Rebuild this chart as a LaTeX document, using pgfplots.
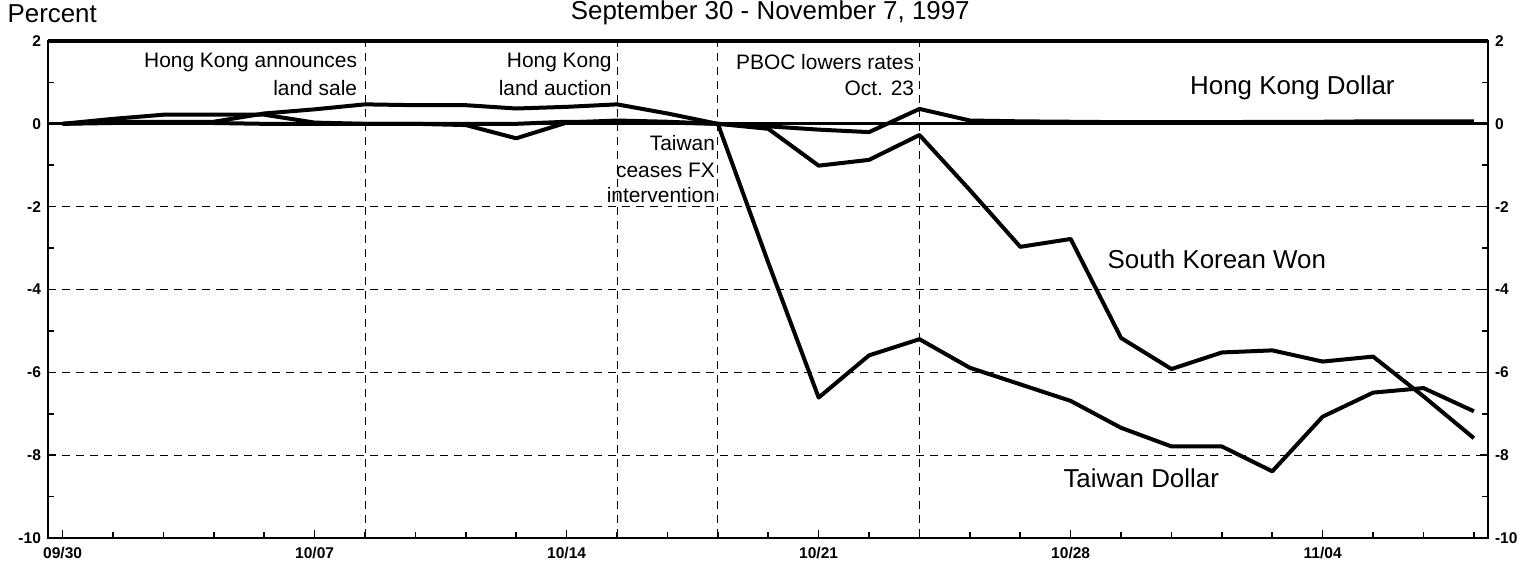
\documentclass[border=0pt]{standalone}
\usepackage{fontspec}
\setmainfont{Liberation Sans}
\usepackage{pgfplots}
\pgfplotsset{compat=1.18}

% index 0 = 09/30, one step per business day, last = 11/07 (28)
\begin{document}
\begin{tikzpicture}
\pgfplotsset{
  common/.style={
    at={(0,0)}, anchor=south west,
    scale only axis, width=720bp, height=248.5bp,
    xmin=-0.29, xmax=28.28, ymin=-10, ymax=2,
    ytick={-10,-8,...,2}, minor ytick={-9,-7,...,1},
    tick align=inside,
    major tick length=4bp, minor tick length=3bp,
    tick style={black, line width=0.8bp},
    axis line style={black, line width=1.2bp},
    ticklabel style={font=\bfseries\fontsize{7.8}{9}\selectfont},
    /pgf/number format/assume math mode=true,
  }
}
\begin{axis}[
  common,
  xtick={0,5,10,15,20,25},
  xticklabels={09/30,10/07,10/14,10/21,10/28,11/04},
  minor xtick={1,...,28},
  xtick pos=bottom, ytick pos=left,
  xticklabel style={yshift=-1bp},
  ymajorgrids,
  grid style={black, line width=0.5bp, dash pattern=on 4bp off 3bp},
  clip=false,
]
% event lines
\foreach \e in {6,11,13,17}{
  \edef\tmp{\noexpand\draw[black, line width=0.5bp, dash pattern=on 4bp off 3bp] (axis cs:\e,2.05) -- (axis cs:\e,-10);}
  \tmp
}
% zero line
\draw[black, line width=1.4bp] (axis cs:-0.29,0) -- (axis cs:28.28,0);
\draw[black, line width=1.8bp] (axis cs:-0.29,2) -- (axis cs:28.28,2);

% Taiwan Dollar
\addplot[black, line width=2bp, line join=round] coordinates {
(0,0) (1,0.05) (2,0.05) (3,0.05) (4,0.25) (5,0.35) (6,0.47) (7,0.45)
(8,0.45) (9,0.37) (10,0.41) (11,0.47) (12,0.25) (13,0) (14,-3.35)
(15,-6.61) (16,-5.59) (17,-5.2) (18,-5.89) (19,-6.29) (20,-6.69)
(21,-7.34) (22,-7.79) (23,-7.79) (24,-8.39) (25,-7.07) (26,-6.49)
(27,-6.38) (28,-6.94)
};
% Hong Kong Dollar
\addplot[black, line width=2bp, line join=round] coordinates {
(0,0) (1,0.12) (2,0.22) (3,0.22) (4,0.22) (5,0.03) (6,0) (7,0)
(8,-0.03) (9,-0.35) (10,0.03) (11,0.08) (12,0.05) (13,0) (14,-0.06)
(15,-0.14) (16,-0.2) (17,0.36) (18,0.08) (19,0.06) (20,0.05)
(21,0.04) (22,0.04) (23,0.04) (24,0.05) (25,0.05) (26,0.06)
(27,0.06) (28,0.06)
};
% South Korean Won
\addplot[black, line width=2bp, line join=round] coordinates {
(0,0) (1,0.02) (2,0.02) (3,0.02) (4,0) (5,0) (6,0) (7,0)
(8,0) (9,0) (10,0.05) (11,0.05) (12,0.03) (13,0) (14,-0.12)
(15,-1.01) (16,-0.87) (17,-0.27) (18,-1.6) (19,-2.97) (20,-2.78)
(21,-5.17) (22,-5.92) (23,-5.52) (24,-5.47) (25,-5.74) (26,-5.62)
(27,-6.58) (28,-7.59)
};

% texts
\begin{scope}[every node/.style={inner sep=0pt, font=\fontsize{10.5}{12}\selectfont}]
\node[anchor=east] at (axis cs:5.85,1.49) {Hong Kong announces};
\node[anchor=east] at (axis cs:5.85,0.86) {land sale};
\node[anchor=east] at (axis cs:10.9,1.49) {Hong Kong};
\node[anchor=east] at (axis cs:10.9,0.86) {land auction};
\node[anchor=east] at (axis cs:16.9,1.49) {PBOC lowers rates};
\node[anchor=east] at (axis cs:16.9,0.86) {Oct. 23};
\node[anchor=east] at (axis cs:12.95,-0.47) {Taiwan};
\node[anchor=east] at (axis cs:12.95,-1.12) {ceases FX};
\node[anchor=east] at (axis cs:12.95,-1.73) {intervention};
\end{scope}
\begin{scope}[every node/.style={inner sep=0pt, font=\fontsize{13}{15}\selectfont}]
\node at (axis cs:24.4,0.86) {Hong Kong Dollar};
\node at (axis cs:22.9,-3.27) {South Korean Won};
\node at (axis cs:21.4,-8.56) {Taiwan Dollar};
\node at (axis cs:14.04,2.68) {September 30 - November 7, 1997};
\node[anchor=west] at (axis cs:-1.1,2.66) {Percent};
\end{scope}
\end{axis}

\begin{axis}[
  common,
  axis x line=none, axis y line*=right,
  ytick pos=right,
]
\addplot[draw=none] coordinates {(0,0)};
\end{axis}

\pgfresetboundingbox
\path[use as bounding box] (-24bp,-14.5bp) rectangle (745.5bp,269bp);
\end{tikzpicture}
\end{document}
